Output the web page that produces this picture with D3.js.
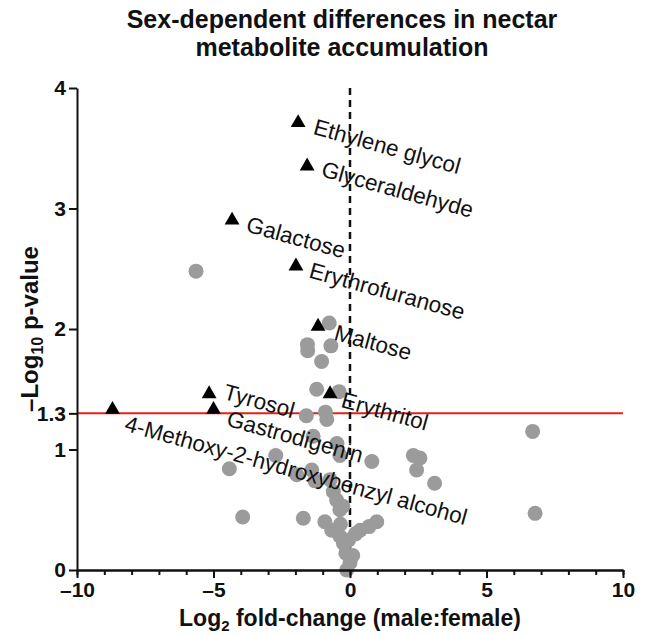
<!DOCTYPE html>
<html>
<head>
<meta charset="utf-8">
<script src="https://cdn.jsdelivr.net/npm/d3@7"></script>
<style>
  html, body { margin: 0; padding: 0; background: #fff; }
  svg { display: block; font-family: "Liberation Sans", Arial, Helvetica, sans-serif; }
</style>
</head>
<body>
<svg id="chart" width="649" height="635"></svg>
<script>
// ---- Data ----
const titleLines = ["Sex-dependent differences in nectar", "metabolite accumulation"];
const sigNames = ["Ethylene glycol", "Glyceraldehyde", "Galactose", "Erythrofuranose", "Maltose",
                  "Erythritol", "Tyrosol", "Gastrodigenin", "4-Methoxy-2-hydroxybenzyl alcohol"];
const sigX = [-1.9, -1.57, -4.32, -1.98, -1.17, -0.73, -5.16, -5.0, -8.7];
const sigY = [3.72, 3.36, 2.91, 2.53, 2.03, 1.47, 1.47, 1.34, 1.34];
const nsX = [-5.64, -0.76, -1.56, -1.55, -0.70, -1.04, -1.22, -0.40, -1.60, -0.90,
             -0.85, -1.35, -0.48, -2.72, -4.42, -3.93, -0.37, 0.80, 2.32, 2.56,
             2.44, 3.10, 6.69, 6.78, -1.95, -1.40, -1.28, -0.73, -0.61, -0.49,
             -0.37, -0.26, -1.71, -0.92, -0.67, 0.37, 0.98, 0.70, -0.24, -0.37,
             -0.15, 0.00, -0.12, -0.35, 0.20, -0.05, 0.10];
const nsY = [2.48, 2.05, 1.87, 1.82, 1.86, 1.73, 1.50, 1.48, 1.28, 1.31,
             1.25, 1.11, 1.05, 0.95, 0.84, 0.44, 0.95, 0.90, 0.95, 0.93,
             0.83, 0.72, 1.15, 0.47, 0.79, 0.83, 0.74, 0.75, 0.65, 0.58,
             0.50, 0.53, 0.43, 0.40, 0.33, 0.33, 0.40, 0.36, 0.22, 0.28,
             0.14, 0.06, 0.00, 0.38, 0.30, 0.25, 0.12];
const xTicks = [-10, -5, 0, 5, 10];
const xMinorTicks = d3.range(-10, 11, 1);
const yTicks = [0, 1, 1.3, 2, 3, 4];
const threshold = 1.3;

// ---- Layout ----
const W = 649, H = 635;
const margin = { left: 77, right: 26, top: 88, bottom: 65 };
const svg = d3.select("#chart");

const x = d3.scaleLinear().domain([-10, 10]).range([margin.left, W - margin.right]);
const y = d3.scaleLinear().domain([0, 4]).range([H - margin.bottom, margin.top]);

const fmt = d => d < 0 ? "\u2013" + Math.abs(d) : String(d);

// Title
svg.append("g").selectAll("text").data(titleLines).join("text")
  .attr("x", 342).attr("y", (d, i) => 28 + i * 28)
  .attr("text-anchor", "middle")
  .attr("font-size", 25).attr("font-weight", "bold").attr("fill", "#111")
  .text(d => d);

// Threshold line
svg.append("line")
  .attr("x1", x(-10)).attr("x2", x(10))
  .attr("y1", y(threshold)).attr("y2", y(threshold))
  .attr("stroke", "#e3201b").attr("stroke-width", 2);

// Dashed zero line
svg.append("line")
  .attr("x1", x(0)).attr("x2", x(0))
  .attr("y1", y(4)).attr("y2", y(0))
  .attr("stroke", "#111").attr("stroke-width", 2.5)
  .attr("stroke-dasharray", "7,5");

// Non-significant points
svg.append("g").selectAll("circle").data(nsX.map((v, i) => [v, nsY[i]])).join("circle")
  .attr("cx", d => x(d[0])).attr("cy", d => y(d[1]))
  .attr("r", 7.5).attr("fill", "#9b9b9c");

// Axes
const xAxisMinor = d3.axisBottom(x).tickValues(xMinorTicks).tickSize(5).tickFormat("").tickSizeOuter(0);
const xAxis = d3.axisBottom(x).tickValues(xTicks).tickSize(8).tickPadding(4).tickFormat(fmt).tickSizeOuter(0);
const yAxis = d3.axisLeft(y).tickValues(yTicks).tickSize(8).tickPadding(3).tickFormat(fmt).tickSizeOuter(0);

const gxm = svg.append("g").attr("transform", `translate(0,${y(0)})`).call(xAxisMinor);
const gx = svg.append("g").attr("transform", `translate(0,${y(0)})`).call(xAxis);
const gy = svg.append("g").attr("transform", `translate(${x(-10)},0)`).call(yAxis);

[gxm, gx, gy].forEach(g => {
  g.select(".domain").attr("stroke", "#111").attr("stroke-width", 2);
  g.selectAll(".tick line").attr("stroke", "#111").attr("stroke-width", 2);
  g.selectAll(".tick text").attr("fill", "#111").attr("font-size", 21).attr("font-weight", "bold")
    .attr("font-family", "Liberation Sans, Arial, sans-serif");
});
gy.selectAll(".tick text").attr("dy", "0.33em");

// Axis titles
const xl = svg.append("text")
  .attr("x", 350).attr("y", 626)
  .attr("text-anchor", "middle")
  .attr("font-size", 23).attr("font-weight", "bold").attr("fill", "#111");
xl.append("tspan").text("Log");
xl.append("tspan").attr("font-size", 15).attr("dy", 5).text("2");
xl.append("tspan").attr("dy", -5).text(" fold-change (male:female)");

const yl = svg.append("text")
  .attr("transform", `translate(38,${(y(0) + y(4)) / 2}) rotate(-90)`)
  .attr("text-anchor", "middle")
  .attr("font-size", 24).attr("font-weight", "bold").attr("fill", "#111");
yl.append("tspan").text("\u2013Log");
yl.append("tspan").attr("font-size", 16).attr("dy", 5).text("10");
yl.append("tspan").attr("dy", -5).text(" p-value");

// Significant points (triangles)
const sig = sigNames.map((n, i) => ({ name: n, x: sigX[i], y: sigY[i] }));
svg.append("g").selectAll("path").data(sig).join("path")
  .attr("d", d3.symbol(d3.symbolTriangle, 95))
  .attr("transform", d => `translate(${x(d.x)},${y(d.y) + 1})`)
  .attr("fill", "#000");

// Label placement offsets (layout only)
const labelOffset = {
  "Ethylene glycol": [14, 12], "Glyceraldehyde": [13, 11], "Galactose": [13, 12],
  "Erythrofuranose": [12, 12], "Maltose": [15, 14], "Erythritol": [10, 14],
  "Tyrosol": [13, 6], "Gastrodigenin": [12, 17], "4-Methoxy-2-hydroxybenzyl alcohol": [11, 22]
};
svg.append("g").selectAll("text").data(sig).join("text")
  .attr("transform", d => {
    const o = labelOffset[d.name] || [12, 12];
    return `translate(${x(d.x) + o[0]},${y(d.y) + o[1]}) rotate(15.5)`;
  })
  .attr("font-size", 22.5).attr("fill", "#111")
  .text(d => d.name);
</script>
</body>
</html>
